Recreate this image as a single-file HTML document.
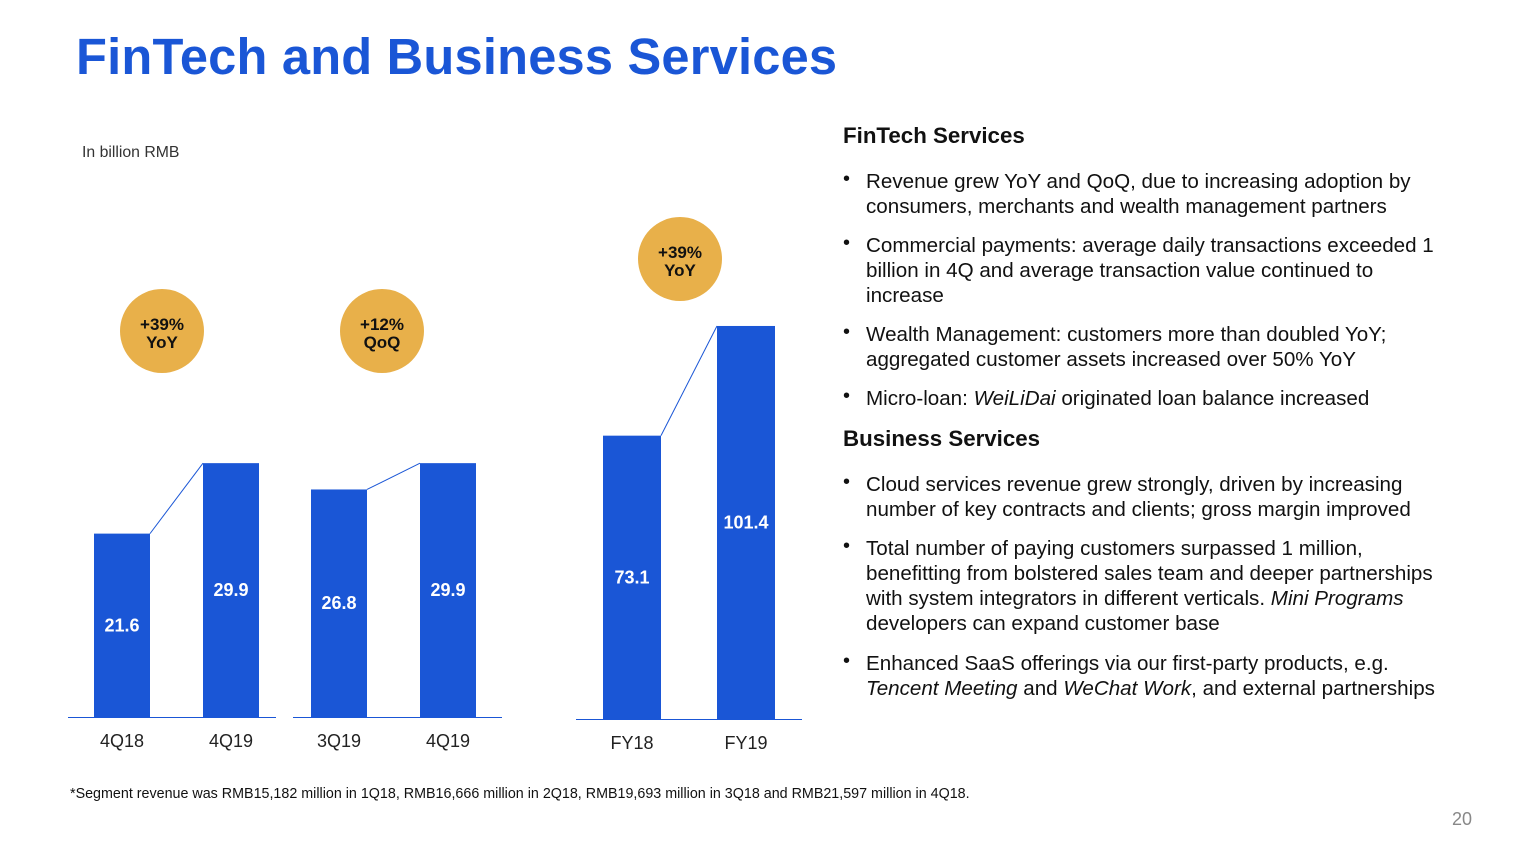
<!DOCTYPE html>
<html><head><meta charset="utf-8">
<style>
body{margin:0;width:1522px;height:850px;background:#fff;font-family:"Liberation Sans",Arial,sans-serif;position:relative;overflow:hidden}
.abs{position:absolute}
h1{position:absolute;left:76px;top:27px;margin:0;font-size:50.6px;font-weight:bold;color:#1a56d6;letter-spacing:0.2px}
.h2{position:absolute;left:843px;font-size:22.3px;font-weight:bold;color:#111}
.b{position:absolute;left:866px;font-size:20.6px;line-height:25px;color:#111;width:590px;white-space:nowrap}
.b:before{content:"•";position:absolute;left:-23px;top:-2px;font-size:20px}
</style></head><body>
<h1>FinTech and Business Services</h1>
<div class="abs" style="left:82px;top:144px;font-size:15.8px;color:#333">In billion RMB</div>
<svg class="abs" style="left:0;top:0" width="820" height="780" id="chart"></svg>
<div class="h2" style="top:123px">FinTech Services</div>
<div class="b" style="top:169px">Revenue grew YoY and QoQ, due to increasing adoption by<br>consumers, merchants and wealth management partners</div>
<div class="b" style="top:233px">Commercial payments: average daily transactions exceeded 1<br>billion in 4Q and average transaction value continued to<br>increase</div>
<div class="b" style="top:322px">Wealth Management: customers more than doubled YoY;<br>aggregated customer assets increased over 50% YoY</div>
<div class="b" style="top:386px">Micro-loan: <i>WeiLiDai</i> originated loan balance increased</div>
<div class="h2" style="top:426px">Business Services</div>
<div class="b" style="top:472px">Cloud services revenue grew strongly, driven by increasing<br>number of key contracts and clients; gross margin improved</div>
<div class="b" style="top:536px">Total number of paying customers surpassed 1 million,<br>benefitting from bolstered sales team and deeper partnerships<br>with system integrators in different verticals. <i>Mini Programs</i><br>developers can expand customer base</div>
<div class="b" style="top:651px">Enhanced SaaS offerings via our first-party products, e.g.<br><i>Tencent Meeting</i> and <i>WeChat Work</i>, and external partnerships</div>
<div class="abs" style="left:70px;top:786px;font-size:14.3px;color:#111">*Segment revenue was RMB15,182 million in 1Q18, RMB16,666 million in 2Q18, RMB19,693 million in 3Q18 and RMB21,597 million in 4Q18.</div>
<div class="abs" style="left:1452px;top:809px;font-size:18px;color:#888">20</div>
<script>
const groupCategories=[["4Q18","4Q19"],["3Q19","4Q19"],["FY18","FY19"]];
const groupValues=[[21.6,29.9],[26.8,29.9],[73.1,101.4]];
const badgeLabels=[["+39%","YoY"],["+12%","QoQ"],["+39%","YoY"]];
const ns="http://www.w3.org/2000/svg",svg=document.getElementById('chart');
const layout=[
 {base:717,scale:8.49,bx:[94,203],bw:56,axis:[68,276],badge:[162,331]},
 {base:717,scale:8.49,bx:[311,420],bw:56,axis:[293,502],badge:[382,331]},
 {base:719,scale:3.876,bx:[603,717],bw:58,axis:[576,802],badge:[680,259]}];
function mk(t,a){const e=document.createElementNS(ns,t);for(const k in a)e.setAttribute(k,a[k]);svg.appendChild(e);return e;}
groupValues.forEach((vals,g)=>{
 const L=layout[g];const y=v=>L.base-v*L.scale;
 vals.forEach((v,i)=>{
  const r=mk('rect',{x:L.bx[i],y:y(v),width:L.bw,height:v*L.scale,fill:'#1a56d6'});
  
  
  const t=mk('text',{x:L.bx[i]+L.bw/2,y:(y(v)+L.base)/2+6,'text-anchor':'middle',fill:'#fff','font-size':18,'font-weight':'bold','font-family':'Liberation Sans'});
  t.textContent=v.toFixed(1);
  
  
  const c=mk('text',{x:L.bx[i]+L.bw/2,y:L.base+30,'text-anchor':'middle',fill:'#222','font-size':18,'font-family':'Liberation Sans'});
  c.textContent=groupCategories[g][i];
  
  
 });
 const ln=mk('line',{x1:L.bx[0]+L.bw,y1:y(vals[0]),x2:L.bx[1],y2:y(vals[1]),stroke:'#1a56d6','stroke-width':1});
 
 
 const ax=mk('line',{x1:L.axis[0],y1:L.base+0.5,x2:L.axis[1],y2:L.base+0.5,stroke:'#1a56d6','stroke-width':1});
 
 
 const ci=mk('circle',{cx:L.badge[0],cy:L.badge[1],r:42,fill:'#e8b04a'});
 
 
 badgeLabels[g].forEach((s,k)=>{
  const bt=mk('text',{x:L.badge[0],y:L.badge[1]-1+k*18,'text-anchor':'middle',fill:'#111','font-size':17,'font-weight':'bold','font-family':'Liberation Sans'});
  bt.textContent=s;
  
  
 });
});
</script>
</body></html>
